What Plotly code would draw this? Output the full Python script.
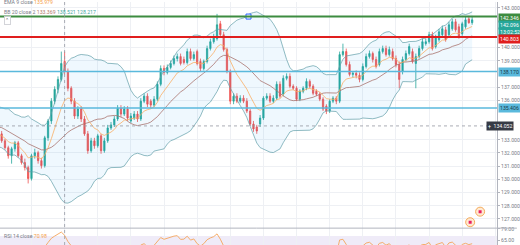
import plotly.graph_objects as go
import pandas as pd
import numpy as np

# ---------------- data ----------------
prior_closes = [133.8, 134.2, 134.7, 135.1, 134.8, 135.2, 134.9, 134.5, 134.8, 134.3, 134.0,
                134.4, 133.9, 133.5, 133.8, 133.3, 133.0, 133.4, 133.1, 132.8, 133.1, 133.6]

opens = [133.45, 132.92, 132.40, 131.79, 132.32, 132.77, 131.79, 131.27, 130.89, 130.06,
         131.79, 132.02, 131.42, 131.04, 133.15, 134.43, 135.93, 136.83, 137.58, 138.94,
         138.19, 136.91, 135.93, 134.80, 135.33, 134.58, 133.45, 132.17, 132.92, 132.55,
         133.30, 132.17, 132.92, 133.90, 134.13, 134.58, 135.40, 134.95, 135.33,
         134.43, 134.65, 134.95, 134.58, 135.93, 136.31, 135.93, 135.63, 136.08, 137.21,
         138.41, 138.11, 138.49, 138.79, 139.16, 139.31, 139.09, 138.86, 139.69, 139.16,
         139.69, 138.94, 138.41, 138.94, 139.92, 140.44, 140.67, 141.80, 140.97, 139.84,
         138.19, 135.93, 136.31, 135.93, 136.16, 135.93, 135.18, 134.20, 133.97,
         134.20, 134.65, 136.16, 136.31, 135.93, 136.16, 137.21, 136.46, 137.66, 137.81,
         137.06, 136.91, 136.08, 136.68, 136.91, 137.43, 137.06, 136.68, 136.46, 136.08,
         135.55, 135.18, 135.93, 136.16, 135.93, 139.46, 139.69, 138.71, 137.96, 138.04,
         137.89, 137.58, 138.56, 139.31, 139.54, 139.09, 138.71, 139.69, 139.92, 139.46,
         139.69, 139.16, 138.71, 138.19, 139.09, 139.54, 139.69, 138.79, 139.31, 139.92,
         140.29, 140.44, 140.97, 140.07, 140.59, 140.97, 141.34, 140.97, 141.42, 141.95,
         141.57, 141.04, 141.57, 142.17, 141.88]

highs = [133.67, 133.07, 132.55, 132.47, 132.92, 132.92, 131.94, 131.57, 131.04, 131.94,
         132.32, 132.17, 131.64, 133.30, 134.58, 136.16, 137.06, 137.81, 139.69, 139.69,
         138.41, 137.06, 136.16, 135.55, 135.55, 134.80, 133.67, 133.15, 133.15, 133.45,
         133.45, 133.15, 134.13, 134.35, 134.80, 135.63, 135.63, 135.55, 135.55,
         135.03, 135.18, 135.18, 136.16, 136.53, 136.53, 136.08, 136.31, 137.43, 138.64,
         138.64, 138.71, 139.01, 139.39, 139.54, 139.54, 139.31, 139.92, 139.92, 139.69,
         139.84, 139.16, 139.09, 140.14, 140.67, 141.04, 142.55, 142.02, 141.19, 139.99,
         138.34, 136.53, 136.53, 136.38, 136.38, 136.16, 135.33, 134.43, 134.13,
         134.88, 136.31, 136.53, 136.53, 136.38, 137.43, 137.43, 137.89, 138.04, 138.04,
         137.21, 137.06, 136.83, 137.06, 137.66, 137.58, 137.21, 136.83, 136.61, 136.23,
         135.70, 136.08, 136.31, 136.31, 139.69, 140.29, 139.92, 138.94, 138.19, 138.26,
         138.11, 138.79, 139.54, 139.77, 139.69, 139.31, 139.92, 140.14, 140.14, 140.07,
         139.92, 139.39, 138.94, 139.31, 139.77, 140.29, 139.92, 139.54, 140.14, 140.67,
         140.67, 141.19, 141.19, 140.97, 141.42, 141.65, 141.57, 141.95, 142.17, 142.17,
         141.80, 141.95, 142.32, 142.40, 142.40]

lows = [132.77, 132.25, 131.57, 131.19, 132.10, 131.64, 131.12, 130.67, 129.69, 129.91,
        131.57, 131.19, 130.82, 130.89, 132.92, 134.20, 135.70, 136.53, 137.43, 137.96,
        136.68, 135.70, 134.58, 134.58, 134.35, 133.30, 131.94, 132.02, 132.32, 132.40,
        131.94, 132.02, 132.77, 133.75, 133.97, 134.43, 134.73, 134.80, 134.43,
        134.28, 134.50, 134.35, 134.43, 135.78, 135.48, 135.40, 135.48, 135.93, 137.06,
        137.89, 137.96, 138.34, 138.64, 138.94, 138.64, 138.71, 138.71, 139.01, 139.01,
        138.64, 138.19, 138.26, 138.79, 139.77, 140.29, 140.52, 140.82, 139.69, 138.04,
        135.70, 135.70, 135.78, 135.78, 135.78, 135.03, 134.05, 133.60, 133.45,
        133.97, 134.50, 136.01, 135.78, 135.78, 136.01, 136.16, 136.31, 137.51, 136.91,
        136.76, 135.93, 135.93, 136.53, 136.76, 136.91, 136.38, 136.31, 135.93, 135.18,
        134.95, 135.03, 135.78, 135.70, 135.78, 139.31, 138.56, 137.81, 137.73, 137.66,
        137.36, 137.43, 138.41, 139.16, 138.86, 138.41, 138.56, 139.54, 139.31, 139.31,
        139.01, 138.49, 136.91, 137.96, 138.94, 139.39, 138.79, 136.91, 139.16, 139.77,
        140.14, 140.29, 139.77, 139.92, 140.44, 140.82, 140.44, 140.82, 141.27, 141.19,
        140.67, 140.89, 141.42, 141.80, 141.72]

closes = [132.92, 132.40, 131.79, 132.32, 132.77, 131.79, 131.27, 130.89, 130.06, 131.79,
          132.02, 131.42, 131.04, 133.15, 134.43, 135.93, 136.83, 137.58, 138.79, 138.19,
          136.91, 135.93, 134.80, 135.33, 134.58, 133.45, 132.17, 132.92, 132.55, 133.30,
          132.17, 132.92, 133.90, 134.13, 134.58, 135.40, 134.95, 135.33, 134.65,
          134.80, 134.95, 134.58, 135.93, 136.31, 135.70, 135.63, 136.08, 137.21, 138.41,
          138.11, 138.49, 138.79, 139.16, 139.31, 138.79, 138.86, 139.69, 139.16, 139.46,
          138.79, 138.41, 138.94, 139.92, 140.44, 140.82, 141.72, 140.97, 139.84, 138.19,
          135.93, 136.31, 135.93, 136.16, 135.93, 135.18, 134.20, 133.82, 133.67,
          134.65, 136.16, 136.31, 135.93, 136.16, 137.21, 136.31, 137.66, 137.81, 137.06,
          136.91, 136.08, 136.68, 136.91, 137.43, 137.06, 136.53, 136.46, 136.08, 135.33,
          135.18, 135.93, 136.16, 135.93, 139.46, 139.69, 138.71, 137.96, 138.04, 137.89,
          137.58, 138.56, 139.31, 139.54, 139.09, 138.56, 139.69, 139.92, 139.46, 139.84,
          139.16, 138.71, 137.58, 139.09, 139.54, 140.07, 138.94, 139.31, 139.92, 140.44,
          140.44, 140.97, 139.92, 140.82, 141.19, 141.42, 140.59, 141.72, 141.95, 141.34,
          140.82, 141.80, 142.10, 141.88, 142.096]

green_level = 142.346
red_level = 140.803
cyan_levels = [138.170, 135.406]
countdown_text = "13:02:52"
cross_idx = 19
cross_price = 134.052
handle_idx = 74.5
event_idx = [144.4, 141.4]
event_price = [127.55, 126.75]
# price ticks that are not hidden behind the coloured price labels
price_ticks = [127, 128, 129, 130, 131, 132, 133, 136, 137, 139, 140, 143]
rsi_ticks = [79, 65]

# ---------------- indicators ----------------
n0 = len(prior_closes)
allc = pd.Series(prior_closes + closes, dtype=float)
xall = np.arange(-n0, len(closes))
ema = allc.ewm(span=9, adjust=False).mean()
basis = allc.rolling(20).mean()
sd = allc.rolling(20).std(ddof=0)
upper = basis + 2 * sd
lower = basis - 2 * sd
d = allc.diff()
ag = d.clip(lower=0).ewm(alpha=1 / 14, adjust=False).mean()
al = (-d.clip(upper=0)).ewm(alpha=1 / 14, adjust=False).mean()
rsi = 100 - 100 / (1 + ag / al)

idx = list(range(len(closes)))
ci = cross_idx + n0

GREEN = "#26a69a"
RED = "#ef5350"
BBC = "rgba(100,160,170,0.9)"
FONT = "Roboto"

fig = go.Figure()
fig.add_trace(go.Scatter(x=xall, y=upper, mode="lines", line=dict(color=BBC, width=0.8),
                         hoverinfo="skip", showlegend=False))
fig.add_trace(go.Scatter(x=xall, y=lower, mode="lines", line=dict(color=BBC, width=0.8),
                         fill="tonexty", fillcolor="rgba(33,150,243,0.07)",
                         hoverinfo="skip", showlegend=False))
fig.add_trace(go.Scatter(x=xall, y=basis, mode="lines", line=dict(color="rgb(170,115,110)", width=0.8),
                         hoverinfo="skip", showlegend=False))
fig.add_trace(go.Scatter(x=xall, y=ema, mode="lines", line=dict(color="rgb(250,175,100)", width=0.8),
                         hoverinfo="skip", showlegend=False))
fig.add_trace(go.Candlestick(x=idx, open=opens, high=highs, low=lows, close=closes,
                             increasing=dict(line=dict(color=GREEN, width=0.8), fillcolor=GREEN),
                             decreasing=dict(line=dict(color=RED, width=0.8), fillcolor=RED),
                             whiskerwidth=0, showlegend=False))
# handle on the green level
fig.add_trace(go.Scatter(x=[handle_idx], y=[green_level], mode="markers",
                         marker=dict(symbol="square", size=5, color="white",
                                     line=dict(color="#2962ff", width=1)),
                         showlegend=False, hoverinfo="skip"))
# event icons
fig.add_trace(go.Scatter(x=event_idx, y=event_price, mode="markers",
                         marker=dict(symbol="circle", size=9, color="rgba(255,220,180,0.6)",
                                     line=dict(color="rgb(245,170,90)", width=1)),
                         showlegend=False, hoverinfo="skip"))
fig.add_trace(go.Scatter(x=event_idx, y=event_price, mode="markers",
                         marker=dict(symbol="square", size=3, color="#e91e63"),
                         showlegend=False, hoverinfo="skip"))
# RSI
fig.add_trace(go.Scatter(x=xall, y=rsi, mode="lines", line=dict(color="rgb(245,165,90)", width=0.9),
                         xaxis="x2", yaxis="y2", showlegend=False, hoverinfo="skip"))

split = 17 / 245
shapes = [
    dict(type="line", xref="paper", yref="y", x0=0, x1=1, y0=green_level, y1=green_level,
         line=dict(color="#3d8c40", width=2)),
    dict(type="line", xref="paper", yref="y", x0=0, x1=1, y0=red_level, y1=red_level,
         line=dict(color="#e01e1e", width=2)),
    dict(type="line", xref="paper", yref="y", x0=0, x1=1, y0=cross_price, y1=cross_price,
         line=dict(color="#9598a1", width=0.8, dash="dot")),
    dict(type="line", xref="x", yref="paper", x0=cross_idx, x1=cross_idx, y0=0, y1=1,
         line=dict(color="#9598a1", width=0.8, dash="dot")),
    dict(type="rect", xref="paper", yref="y2", x0=0, x1=1, y0=30, y1=70,
         fillcolor="rgba(126,87,194,0.12)", line=dict(width=0), layer="below"),
    dict(type="line", xref="paper", yref="paper", x0=0, x1=1.04, y0=split, y1=split,
         line=dict(color="#b2b5be", width=1)),
]
for lv in cyan_levels:
    shapes.append(dict(type="line", xref="paper", yref="y", x0=0, x1=1, y0=lv, y1=lv,
                       line=dict(color="rgb(90,185,220)", width=1.5)))

def label(y, text, bg, fc="white", yshift=0, x=1.002):
    return dict(xref="paper", yref="y", x=x, y=y, xanchor="left", yanchor="middle",
                text=text, showarrow=False, bgcolor=bg, borderpad=1, yshift=yshift,
                font=dict(family=FONT, size=5.2, color=fc))

last = closes[-1]
annotations = [
    label(green_level, f"{green_level:.3f}", "#3d8c40", yshift=-1),
    label(last, f"{last:.3f}", GREEN, yshift=-5),
    label(last, countdown_text, GREEN, yshift=-12),
    label(red_level, f"{red_level:.3f}", "#e01e1e", yshift=-2),
    label(cyan_levels[0], f"{cyan_levels[0]:.3f}", "rgb(90,185,220)", fc="#1a3a4a"),
    label(cyan_levels[1], f"{cyan_levels[1]:.3f}", "rgb(90,185,220)", fc="#1a3a4a"),
    label(cross_price, f"+  {cross_price:.3f}", "#363a45", x=0.978),
    dict(xref="paper", yref="paper", x=0.004, y=1.02, xanchor="left", yanchor="top",
         showarrow=False, align="left",
         text=f"<span style='color:#787b86'>EMA 9 close</span> <span style='color:#f5a04a'>{ema[ci]:.3f}</span>",
         font=dict(family=FONT, size=5.2)),
    dict(xref="paper", yref="paper", x=0.004, y=0.978, xanchor="left", yanchor="top",
         showarrow=False, align="left",
         text=(f"<span style='color:#787b86'>BB 20 close 2</span> "
               f"<span style='color:#b07a6a'>{basis[ci]:.3f}</span> "
               f"<span style='color:#3fa6a0'>{upper[ci]:.3f} {lower[ci]:.3f}</span>"),
         font=dict(family=FONT, size=5.2)),
    dict(xref="paper", yref="paper", x=0.016, y=0.922, xanchor="center", yanchor="middle",
         showarrow=False, text="⌃", bordercolor="#c8cad0", borderwidth=0.8, borderpad=0.5,
         bgcolor="white", font=dict(family=FONT, size=5, color="#555")),
    dict(xref="paper", yref="paper", x=0.004, y=split - 0.012, xanchor="left", yanchor="top",
         showarrow=False, align="left",
         text=f"<span style='color:#787b86'>RSI 14 close</span> <span style='color:#f5a04a'>{rsi[ci]:.2f}</span>",
         font=dict(family=FONT, size=5.2)),
]

fig.update_layout(
    width=520, height=245,
    margin=dict(l=0, r=20, t=0, b=0),
    paper_bgcolor="white", plot_bgcolor="white",
    showlegend=False, boxgap=0.45,
    shapes=shapes, annotations=annotations,
    xaxis=dict(range=[-0.5, 149.5], anchor="y", showgrid=True, gridcolor="#eef0f4", gridwidth=1,
               tick0=9, dtick=10, showticklabels=False, zeroline=False, rangeslider=dict(visible=False),
               ticks=""),
    xaxis2=dict(matches="x", anchor="y2", showgrid=True, gridcolor="#eef0f4", tick0=9, dtick=10,
                showticklabels=False, zeroline=False, ticks=""),
    yaxis=dict(domain=[split, 1], range=[126.3, 143.45], side="right", tickvals=price_ticks,
               ticktext=[f"{v:.3f}" for v in price_ticks], showgrid=True, gridcolor="#eef0f4",
               tickfont=dict(family=FONT, size=5.2, color="#787b86"), zeroline=False,
               showline=True, linecolor="#b2b5be", linewidth=1, ticks="outside", ticklen=2,
               tickcolor="#b2b5be"),
    yaxis2=dict(domain=[0, split], range=[58.75, 80], side="right", tickvals=rsi_ticks,
                ticktext=[f"{v:.2f}" for v in rsi_ticks], showgrid=False, zeroline=False,
                tickfont=dict(family=FONT, size=5.2, color="#787b86"),
                showline=True, linecolor="#b2b5be", linewidth=1, ticks="outside", ticklen=2,
                tickcolor="#b2b5be"),
)

fig.write_html("out.html")
